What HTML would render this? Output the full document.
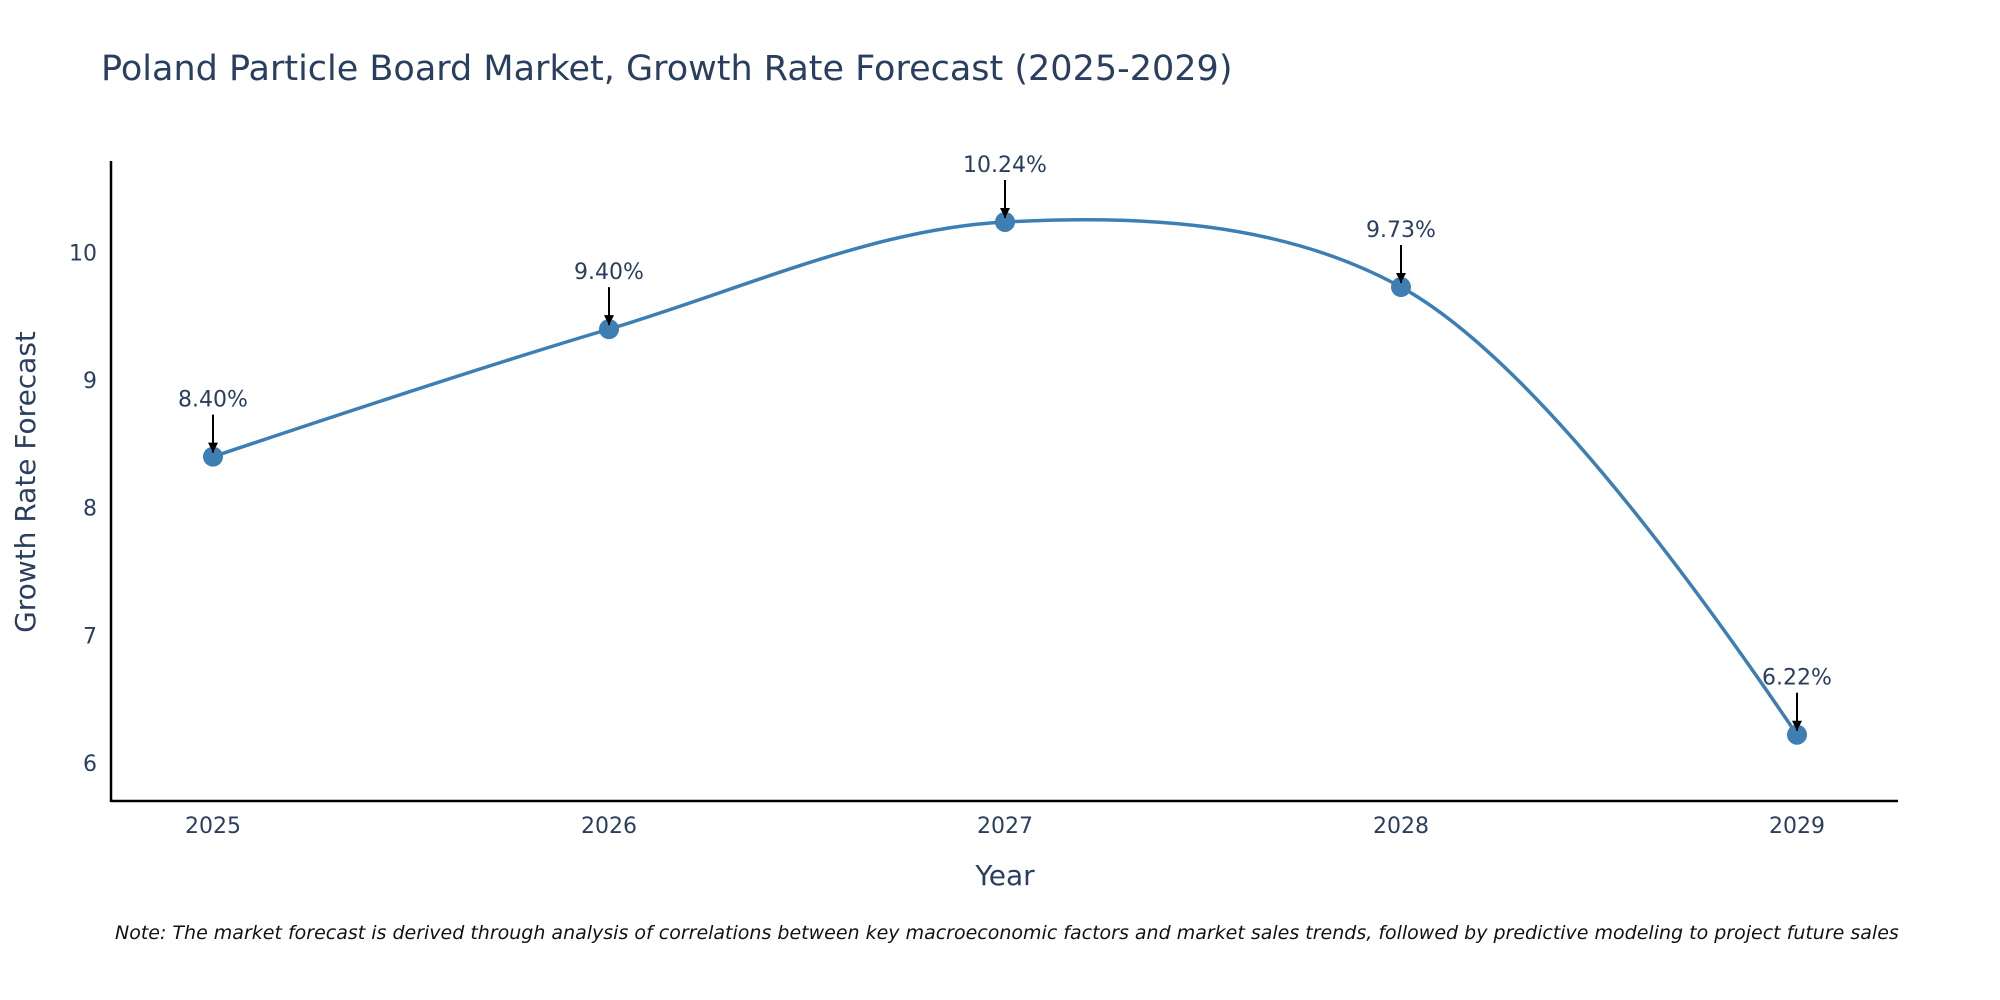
<!DOCTYPE html>
<html><head><meta charset="utf-8"><style>
html,body{margin:0;padding:0;background:#fff;}
svg{display:block;font-family:"DejaVu Sans","Liberation Sans",sans-serif;}
</style></head><body>
<svg id="chart" width="2000" height="1000" viewBox="0 0 2000 1000" xmlns="http://www.w3.org/2000/svg">
<text x="101" y="80" font-size="35" fill="#2a3f5f">Poland Particle Board Market, Growth Rate Forecast (2025-2029)</text>
<g id="plot"></g>
<text transform="translate(35,482) rotate(-90)" text-anchor="middle" font-size="28" fill="#2a3f5f">Growth Rate Forecast</text>
<text x="1005" y="885" text-anchor="middle" font-size="28" fill="#2a3f5f">Year</text>
<text x="115" y="939" font-size="19" font-style="italic" fill="#111">Note: The market forecast is derived through analysis of correlations between key macroeconomic factors and market sales trends, followed by predictive modeling to project future sales</text>
</svg>
<script>
const years = [2025, 2026, 2027, 2028, 2029];
const growth = [8.40, 9.40, 10.24, 9.73, 6.22];
const yTicks = [6, 7, 8, 9, 10];

const NS = "http://www.w3.org/2000/svg";
const plot = document.getElementById('plot');
function xs(v){ return 213 + (v - 2025) * (1797 - 213) / 4; }
function ys(v){ return 762.8 - (v - 6) * (762.8 - 252.6) / 4; }
function mk(tag, attrs){ const e = document.createElementNS(NS, tag); for (const k in attrs) e.setAttribute(k, attrs[k]); plot.appendChild(e); return e; }

const defs = mk('defs', {});
const marker = document.createElementNS(NS, 'marker');
marker.setAttribute('id', 'arr'); marker.setAttribute('viewBox', '0 0 10 10');
marker.setAttribute('refX', '10'); marker.setAttribute('refY', '5');
marker.setAttribute('markerWidth', '5'); marker.setAttribute('markerHeight', '5');
marker.setAttribute('orient', 'auto');
const mp = document.createElementNS(NS, 'path'); mp.setAttribute('d', 'M0,0 L10,5 L0,10 z'); mp.setAttribute('fill', '#000');
marker.appendChild(mp); defs.appendChild(marker);

const xAxis = mk('line', {x1: 111, y1: 801, x2: 1898, y2: 801, stroke: '#000', 'stroke-width': 2.5});


const yAxis = mk('line', {x1: 111, y1: 161, x2: 111, y2: 802, stroke: '#000', 'stroke-width': 2.5});



yTicks.forEach(t => {
  const tx = mk('text', {x: 97, y: ys(t) + 8, 'text-anchor': 'end', 'font-size': 22, fill: '#2a3f5f'});
  tx.textContent = t;
  
  
});
years.forEach(y => {
  const tx = mk('text', {x: xs(y), y: 833, 'text-anchor': 'middle', 'font-size': 22, fill: '#2a3f5f'});
  tx.textContent = y;
  
  
});

// plotly-style spline
const pts = years.map((y, i) => [xs(y), ys(growth[i])]);
function tangent(p, t, n, sm){
  const d1x = p[0]-t[0], d1y = p[1]-t[1], d2x = n[0]-t[0], d2y = n[1]-t[1];
  const d1a = Math.pow(d1x*d1x + d1y*d1y, 0.25), d2a = Math.pow(d2x*d2x + d2y*d2y, 0.25);
  const numx = (d2a*d2a*d1x - d1a*d1a*d2x) * sm, numy = (d2a*d2a*d1y - d1a*d1a*d2y) * sm;
  const den1 = 3*d2a*(d1a+d2a), den2 = 3*d1a*(d1a+d2a);
  return [[t[0] + numx/den1, t[1] + numy/den1], [t[0] - numx/den2, t[1] - numy/den2]];
}
const tans = [];
for (let i = 1; i < pts.length - 1; i++) tans.push(tangent(pts[i-1], pts[i], pts[i+1], 1));
let d = 'M' + pts[0] + 'Q' + tans[0][0] + ' ' + pts[1];
for (let i = 2; i < pts.length - 1; i++) d += 'C' + tans[i-2][1] + ' ' + tans[i-1][0] + ' ' + pts[i];
d += 'Q' + tans[pts.length-3][1] + ' ' + pts[pts.length-1];
const line = mk('path', {d: d, fill: 'none', stroke: '#3d7fb3', 'stroke-width': 3.5});



pts.forEach((p, i) => {
  const c = mk('circle', {cx: p[0], cy: p[1], r: 10, fill: '#3d7fb3'});
  
  
  const a = mk('line', {x1: p[0], y1: p[1] - 42, x2: p[0], y2: p[1] - 4, stroke: '#000', 'stroke-width': 2, 'marker-end': 'url(#arr)'});
  
  
  const t = mk('text', {x: p[0], y: p[1] - 50, 'text-anchor': 'middle', 'font-size': 22, fill: '#2a3f5f'});
  t.textContent = growth[i].toFixed(2) + '%';
  
  
});
</script>
</body></html>
